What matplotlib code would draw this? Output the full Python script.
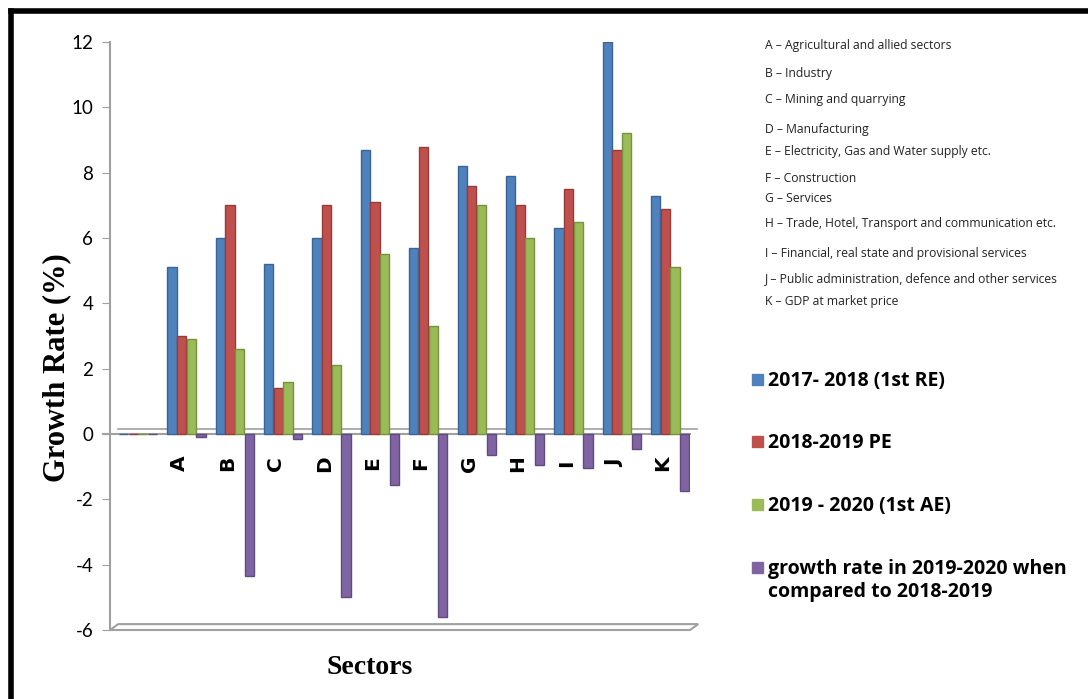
import matplotlib.pyplot as plt
import numpy as np
from matplotlib.lines import Line2D
from matplotlib.patches import Polygon

# sectors (first slot left empty as in the source worksheet)
sectors = ['', 'A', 'B', 'C', 'D', 'E', 'F', 'G', 'H', 'I', 'J', 'K']
re_2017_18 = [0, 5.1, 6.0, 5.2, 6.0, 8.7, 5.7, 8.2, 7.9, 6.3, 12.0, 7.3]
pe_2018_19 = [0, 3.0, 7.0, 1.4, 7.0, 7.1, 8.8, 7.6, 7.0, 7.5, 8.7, 6.9]
ae_2019_20 = [0, 2.9, 2.6, 1.6, 2.1, 5.5, 3.3, 7.0, 6.0, 6.5, 9.2, 5.1]
change_19_20 = [0, -0.1, -4.35, -0.15, -5.0, -1.55, -5.6, -0.65, -0.95, -1.05, -0.45, -1.75]

series_names = ['2017- 2018 (1st RE)', '2018-2019 PE', '2019 - 2020 (1st AE)',
                'growth rate in 2019-2020 when\ncompared to 2018-2019']
colors = ['#4F81BD', '#C0504D', '#9BBB59', '#8064A2']
edges = ['#3A6496', '#943C3A', '#76923C', '#5F4B80']

sector_names = [
    'A \u2013 Agricultural and allied sectors',
    'B \u2013 Industry',
    'C \u2013 Mining and quarrying',
    'D \u2013 Manufacturing',
    'E \u2013 Electricity, Gas and Water supply etc.',
    'F \u2013 Construction',
    'G \u2013 Services',
    'H \u2013 Trade, Hotel, Transport and communication etc.',
    'I \u2013 Financial, real state and provisional services',
    'J \u2013 Public administration, defence and other services',
    'K \u2013 GDP at market price',
]

fig = plt.figure(figsize=(10.88, 6.99), dpi=100)
ax = fig.add_axes([110 / 1088, 69 / 699, 580 / 1088, 588 / 699])

x = np.arange(len(sectors))
w = 0.19
offsets = [-0.3, -0.1, 0.1, 0.3]
for vals, off, c, ec in zip([re_2017_18, pe_2018_19, ae_2019_20, change_19_20], offsets, colors, edges):
    ax.bar(x + off, vals, width=w, color=c, edgecolor=ec, linewidth=1.0, zorder=3)

ax.set_xlim(-0.58, 11.41)
ax.set_ylim(-6, 12)
ax.set_yticks(range(-6, 13, 2))
ax.set_yticklabels([str(v) for v in range(-6, 13, 2)], fontsize=13.5, family='Lato')
ax.set_xticks([])
ax.tick_params(axis='y', length=6, color='#A0A0A0', pad=6)
for side in ['top', 'right', 'bottom']:
    ax.spines[side].set_visible(False)
ax.spines['left'].set_color('#A0A0A0')
ax.spines['left'].set_linewidth(1.5)

# zero baseline drawn as a thin 3D wall edge
ax.plot([-0.73, 11.41], [0, 0], color='#A0A0A0', lw=1.5, zorder=2, clip_on=False)
ax.plot([-0.42, 11.55], [0.15, 0.15], color='#A0A0A0', lw=1.2, zorder=2, clip_on=False)

# floor slab at the bottom
floor = Polygon([[-0.58, -6], [11.41, -6], [11.58, -5.82], [-0.41, -5.82]], closed=True,
                facecolor='white', edgecolor='#A0A0A0', lw=1.5, zorder=2, clip_on=False)
ax.add_patch(floor)

for i, s in enumerate(sectors):
    if s:
        ax.text(i - 0.15, -0.9, s, rotation=90, ha='center', va='center',
                fontsize=14.5, fontweight='bold', family='DejaVu Sans')

fig.text(57 / 1088, 1 - 368 / 699, 'Growth Rate (%)', rotation=90, ha='center', va='center',
         fontsize=22, fontweight='bold', family='Liberation Serif')
fig.text(370 / 1088, 1 - 667 / 699, 'Sectors', ha='center', va='center',
         fontsize=20, fontweight='bold', family='Liberation Serif')

# sector key
key_y = [45, 74, 100, 129, 151, 178, 199, 224, 253, 279, 302]
for yy, name in zip(key_y, sector_names):
    fig.text(765 / 1088, 1 - yy / 699, name, ha='left', va='center', fontsize=8.7,
             family='Open Sans', color='#222222')

# series legend
leg_y = [380, 442, 505, 568]
for yy, name, c in zip(leg_y, series_names, colors):
    fig.patches.append(plt.Rectangle((752 / 1088, 1 - (yy + 5) / 699), 11 / 1088, 11 / 699,
                                     transform=fig.transFigure, figure=fig, color=c))
    fig.text(768 / 1088, 1 - (yy - 9) / 699, name, ha='left', va='top', fontsize=14,
             fontweight='bold', family='Open Sans', linespacing=1.2)

# outer frame (top and left edges)
fig.add_artist(Line2D([11 / 1088, 1], [1 - 11 / 699, 1 - 11 / 699], color='black', lw=4,
                      transform=fig.transFigure))
fig.add_artist(Line2D([11 / 1088, 11 / 1088], [0, 1 - 11 / 699], color='black', lw=4,
                      transform=fig.transFigure))

fig.savefig('out.png', dpi=100)
